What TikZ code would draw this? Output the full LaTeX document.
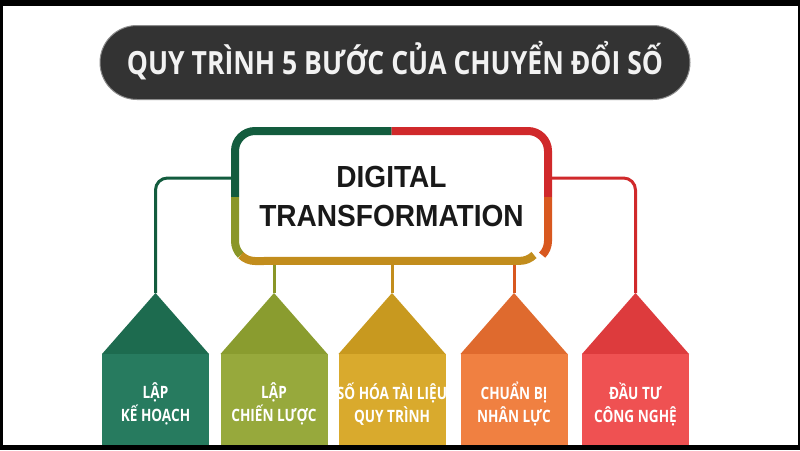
\documentclass[tikz,border=0pt]{standalone}
\usepackage{fontspec}
\setmainfont{Open Sans}
\newfontfamily\titlefont{Open Sans}[FakeStretch=0.83]
\newfontfamily\lblfont{Open Sans}[FakeStretch=0.8]
\newfontfamily\dtfont{Liberation Sans}[FakeStretch=0.92]

\definecolor{dtgreen}{HTML}{135C3E}
\definecolor{dtred}{HTML}{D0292B}
\definecolor{dtolive}{HTML}{8A9628}
\definecolor{dtorange}{HTML}{D8581F}
\definecolor{dtgold}{HTML}{C28D1D}
\definecolor{pilldark}{HTML}{333333}

\begin{document}
\begin{tikzpicture}[x=1pt,y=-1pt,
          pill/.style={rectangle, rounded corners=37pt, fill=pilldark, draw=black!45,
            line width=1pt, minimum width=590pt, minimum height=74pt, text=black!5,
            inner sep=0pt, text height=23pt, text depth=0pt,
            font=\titlefont\bfseries\fontsize{32}{38}\selectfont},
          hub/.style={rectangle, minimum width=321pt, minimum height=138pt, align=center,
            text=black!90, font=\dtfont\bfseries\fontsize{30.5}{39}\selectfont},
          boxedge/.style={line width=8pt, line cap=butt},
          link/.style={line width=3pt, rounded corners=12pt},
          steplabel/.style={text=white, align=center, inner sep=0pt,
            font=\lblfont\bfseries\fontsize{17}{23}\selectfont}]

        \useasboundingbox (0,0) rectangle (800,450);
        \fill[black] (0,0) rectangle (800,450);
        \fill[white] (3,6) rectangle (798,445);

        % title bar
        \node[pill] (title) at (395,62.5) {QUY TRÌNH 5 BƯỚC CỦA CHUYỂN ĐỔI SỐ};

        % centre box
        \node[hub] (dt) at (391.5,196) {DIGITAL\\TRANSFORMATION};
        \draw[boxedge, dtgreen]  (235,197) -- (235,151) arc[start angle=180, end angle=270, radius=20] -- (391.5,131);
        \draw[boxedge, dtred]    (391.5,131) -- (528,131) arc[start angle=270, end angle=360, radius=20] -- (548,197);
        \draw[boxedge, dtolive]  (235,197) -- (235,241) arc[start angle=180, end angle=135, radius=20];
        \draw[boxedge, dtorange] (548,197) -- (548,241) arc[start angle=0, end angle=45, radius=20];
        \draw[boxedge, dtgold]   (534,255) arc[start angle=45, end angle=90, radius=20] -- (255,261)
                                 arc[start angle=90, end angle=135, radius=20];

        % tips of the five steps
        \coordinate (tip1) at (155.5,293);
        \coordinate (tip2) at (274,293);
        \coordinate (tip3) at (392,293);
        \coordinate (tip4) at (514,293);
        \coordinate (tip5) at (635.5,293);
        \coordinate (jl) at (231,178);
        \coordinate (jr) at (552,178);

        \draw[link, dtgreen] (jl) -| (tip1);
        \draw[link, dtred]   (jr) -| (tip5);
        \draw[link, dtolive]  (dt.south -| tip2) -- (tip2);
        \draw[link, dtgold]   (dt.south -| tip3) -- (tip3);
        \draw[link, dtorange] (dt.south -| tip4) -- (tip4);

        % step 1
        \fill[fill={rgb,255:red,29;green,107;blue,79}]  (102,354) -- (tip1) -- (209,354) -- cycle;
        \fill[fill={rgb,255:red,39;green,123;blue,95}]  (102,354) rectangle (209,445);
        \node[steplabel] (s1) at (155.5,404) {LẬP\\KẾ HOẠCH};

        % step 2
        \fill[fill={rgb,255:red,138;green,156;blue,47}] (220.5,354) -- (tip2) -- (327.5,354) -- cycle;
        \fill[fill={rgb,255:red,151;green,169;blue,60}] (220.5,354) rectangle (327.5,445);
        \node[steplabel] (s2) at (274,404) {LẬP\\CHIẾN LƯỢC};

        % step 3
        \fill[fill={rgb,255:red,200;green,153;blue,31}] (338.5,354) -- (tip3) -- (445.5,354) -- cycle;
        \fill[fill={rgb,255:red,217;green,170;blue,45}] (338.5,354) rectangle (445.5,445);
        \node[steplabel] (s3) at (392,404) {SỐ HÓA TÀI LIỆU\\QUY TRÌNH};

        % step 4
        \fill[fill={rgb,255:red,223;green,106;blue,46}] (460.5,354) -- (tip4) -- (567.5,354) -- cycle;
        \fill[fill={rgb,255:red,240;green,128;blue,65}] (460.5,354) rectangle (567.5,445);
        \node[steplabel] (s4) at (514,404) {CHUẨN BỊ\\NHÂN LỰC};

        % step 5
        \fill[fill={rgb,255:red,221;green,59;blue,61}]  (582,354) -- (tip5) -- (689,354) -- cycle;
        \fill[fill={rgb,255:red,239;green,81;blue,82}]  (582,354) rectangle (689,445);
        \node[steplabel] (s5) at (635.5,404) {ĐẦU TƯ\\CÔNG NGHỆ};

      \end{tikzpicture}
\end{document}
